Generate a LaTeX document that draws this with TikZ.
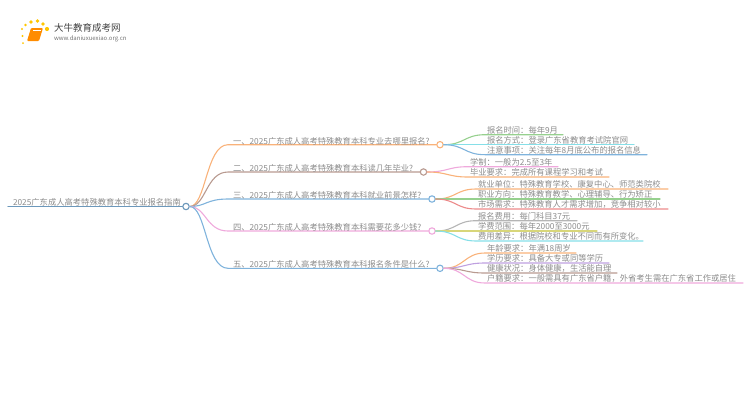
\documentclass[tikz,border=0pt]{standalone}
\usepackage{fontspec}
\setmainfont{Noto Sans CJK SC}
\definecolor{txt}{HTML}{8C8C8C}
\definecolor{cOrange}{HTML}{F9B27A}
\definecolor{cBrown}{HTML}{B89A90}
\definecolor{cBlue}{HTML}{7FB3DC}
\definecolor{cPink}{HTML}{EFA9DC}
\definecolor{cGreen}{HTML}{96D08E}
\definecolor{cCyan}{HTML}{86DFE8}
\definecolor{cRed}{HTML}{EC8A8A}
\definecolor{cGray}{HTML}{B5B5B5}
\definecolor{cYellow}{HTML}{D8D67A}
\definecolor{cPurple}{HTML}{BFA0E0}
\usetikzlibrary{calc}
\newcommand{\fc}{\symbol{"FF1A}}
\newcommand{\fk}{\symbol{"FF0C}}
\tikzset{
  x=1pt,y=-1pt,
  lab/.style={font=\fontsize{8.3}{9}\selectfont,text=txt,anchor=south west,inner sep=0pt,outer sep=0pt},
  pt/.style={inner sep=0pt,minimum size=0pt,outer sep=0pt},
  hub/.style={circle,draw=#1,fill=white,line width=1.1pt,minimum size=6.4pt,inner sep=0pt},
  edge/.style={draw=#1,line width=1.1pt,line cap=round},
}
\newcommand{\leafitem}[7]{%
  \coordinate (#1s) at (#3,#5);
  \coordinate (#1e) at (#4,#5);
  \path[edge=#6] (#2.east) .. controls ($(#2.east)!0.5!(#1s|-#2.east)$) and ($(#2.east|-#1s)!0.5!(#1s)$) .. (#1s) -- (#1e);
  \node[lab] (#1t) at ([xshift=2pt,yshift=0.6pt]#1s) {#7};
}
\newcommand{\branchitem}[5]{%
  \coordinate (#1s) at (228,#3);
  \node[hub=#4] (#1) at (#2,#3) {};
  \path[edge=#4] (root.east) .. controls (206,206.5) and (206,#3) .. (#1s) -- (#1.west);
  \node[lab] (#1t) at (233,#3+0.2) {#5};
}
\begin{document}
\begin{tikzpicture}
\useasboundingbox (0,0) rectangle (750,410);
% logo
\foreach \a/\b/\r in {22/29/1.1,22.5/36/1.1,25.5/25/1.3,31/22/1.8,37.5/21/1.8,43/24/1.8,47/29/2.1,23/43/1}{
  \fill[orange!45!yellow] (\a,\b) circle (\r);
}
\fill[orange!90!yellow,rounded corners=1pt] (31,28) -- (43,28) -- (39,41) -- (27,41) -- cycle;
\draw[white,line width=.5pt] (33,30) -- (41,30);
\node[pt,anchor=west,font=\fontsize{9.5}{10}\selectfont,text=black!75] (brand) at (54,27.5) {大牛教育成考网};
\node[pt,anchor=west,font=\fontsize{6}{7}\selectfont,text=black!55] (url) at (54,38.5) {www.daniuxuexiao.org.cn};
% root
\coordinate (roots) at (8,206.5);
\node[hub=cBlue!85!black] (root) at (186,206.5) {};
\path[edge=cBlue!85!black] (roots) -- (root.west);
\node[lab] (roott) at (13,206) {2025广东成人高考特殊教育本科专业报名指南};
% branches
\branchitem{b1}{440}{144.7}{cOrange}{一、2025广东成人高考特殊教育本科专业去哪里报名?}
\branchitem{b2}{423.5}{172}{cBrown}{二、2025广东成人高考特殊教育本科读几年毕业?}
\branchitem{b3}{432}{199}{cBlue}{三、2025广东成人高考特殊教育本科就业前景怎样?}
\branchitem{b4}{432}{231}{cPink}{四、2025广东成人高考特殊教育本科需要花多少钱?}
\branchitem{b5}{440}{268.3}{cBlue}{五、2025广东成人高考特殊教育本科报名条件是什么?}
% leaves
\leafitem{l1}{b1}{485}{563}{134.7}{cGreen}{报名时间\fc 每年9月}
\leafitem{l2}{b1}{485}{634}{144.7}{cCyan}{报名方式\fc 登录广东省教育考试院官网}
\leafitem{l3}{b1}{485}{647}{154.7}{cBlue}{注意事项\fc 关注每年8月底公布的报名信息}
\leafitem{l4}{b2}{468}{558}{166.7}{cPink}{学制\fc 一般为2.5至3年}
\leafitem{l5}{b2}{468}{609}{177}{cOrange}{毕业要求\fc 完成所有课程学习和考试}
\leafitem{l6}{b3}{476}{668}{189}{cOrange}{就业单位\fc 特殊教育学校、康复中心、师范类院校}
\leafitem{l7}{b3}{476}{660}{199}{cGreen}{职业方向\fc 特殊教育教学、心理辅导、行为矫正}
\leafitem{l8}{b3}{476}{668}{209}{cRed}{市场需求\fc 特殊教育人才需求增加\fk 竞争相对较小}
\leafitem{l9}{b4}{476}{577}{220.7}{cGray}{报名费用\fc 每门科目37元}
\leafitem{l10}{b4}{476}{597}{231}{cYellow}{学费范围\fc 每年2000至3000元}
\leafitem{l11}{b4}{476}{643}{241}{cCyan}{费用差异\fc 根据院校和专业不同而有所变化。}
\leafitem{l12}{b5}{485}{576}{253}{cOrange}{年龄要求\fc 年满18周岁}
\leafitem{l13}{b5}{485}{609}{263}{cPurple}{学历要求\fc 具备大专或同等学历}
\leafitem{l14}{b5}{485}{617}{273}{cBrown}{健康状况\fc 身体健康\fk 生活能自理}
\leafitem{l15}{b5}{485}{743}{283}{cPink}{户籍要求\fc 一般需具有广东省户籍\fk 外省考生需在广东省工作或居住}
\end{tikzpicture}
\end{document}
